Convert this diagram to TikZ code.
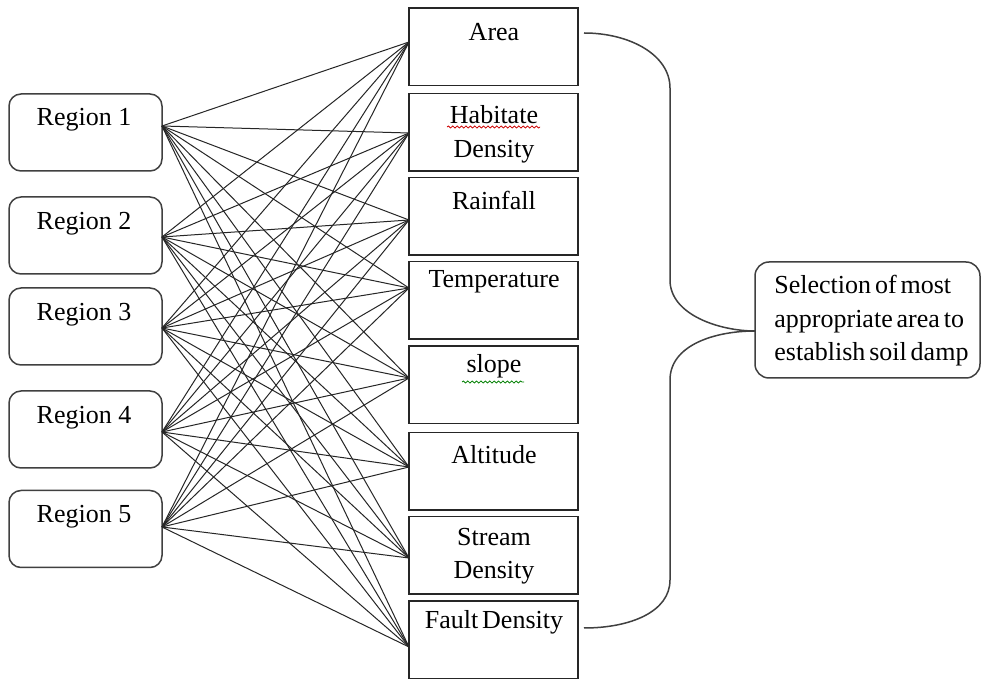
\documentclass[tikz,border=0pt]{standalone}
\usepackage{fontspec}
\setmainfont{Liberation Serif}
\usetikzlibrary{decorations.pathmorphing}
\begin{document}
\begin{tikzpicture}[x=0.5pt,y=-0.5pt,
  regbox/.style={draw=black!75, line width=0.75pt, rounded corners=6pt, minimum width=76.5pt, minimum height=38.5pt, inner sep=0pt},
  facbox/.style={draw=black!85, line width=0.75pt, minimum width=84.5pt, minimum height=38.75pt, inner sep=0pt},
  selbox/.style={draw=black!75, line width=0.75pt, rounded corners=7pt, minimum width=112.5pt, minimum height=58pt, inner sep=0pt},
  txt/.style={font=\fontsize{13}{16.8}\selectfont, inner sep=0pt, align=center},
  tighttxt/.style={font={\fontsize{13}{16.8}\selectfont\spaceskip=0.15em plus 0.05em\relax}, inner sep=0pt, align=left},
  link/.style={draw=black!85, line width=0.5pt},
  bracepath/.style={draw=black!75, line width=0.75pt},
  squiggle/.style={line width=0.4pt, decorate, decoration={snake, amplitude=0.5pt, segment length=2.2pt}}]
\fill[white] (0,0) rectangle (982,679);
\useasboundingbox (0,0) rectangle (982,679);
% region boxes
\node[regbox] (r1) at (85.5,132.5) {};
\node[regbox] (r2) at (85.5,235.5) {};
\node[regbox] (r3) at (85.5,326.5) {};
\node[regbox] (r4) at (85.5,429.5) {};
\node[regbox] (r5) at (85.5,529) {};
\node[txt] (rt1) at (84,120) {Region 1};
\node[txt] (rt2) at (84,224) {Region 2};
\node[txt] (rt3) at (84,315) {Region 3};
\node[txt] (rt4) at (84,418) {Region 4};
\node[txt] (rt5) at (84,517) {Region 5};
% factor boxes
\node[facbox] (f1) at (493.5,47) {};
\node[facbox] (f2) at (493.5,132.5) {};
\node[facbox] (f3) at (493.5,216.5) {};
\node[facbox] (f4) at (493.5,300.5) {};
\node[facbox] (f5) at (493.5,385) {};
\node[facbox] (f6) at (493.5,471.5) {};
\node[facbox] (f7) at (493.5,555.5) {};
\node[facbox] (f8) at (493.5,640) {};
\node[txt] (ft1) at (494,32) {Area};
\node[txt] (ft2) at (494,134) {Habitate\\Density};
\node[txt] (ft3) at (494,200) {Rainfall};
\node[txt] (ft4) at (494,282) {Temperature};
\node[txt] (ft5) at (494,366) {slope};
\node[txt] (ft6) at (494,455) {Altitude};
\node[txt] (ft7) at (494,556) {Stream\\Density};
\node[tighttxt] (ft8) at (494,622) {Fault Density};
% spell-check squiggles
\draw[squiggle, red!80!black] (447,127) -- (540,127);
\draw[squiggle, green!50!black] (462,382) -- (524,382);
% selection box
\node[selbox] (sel) at (867.5,320) {};
\node[tighttxt, anchor=west] (selt) at (774,321) {Selection of most\\appropriate area to\\establish soil damp};
% connection points
\coordinate (s1) at (162,126);
\coordinate (s2) at (162,237);
\coordinate (s3) at (162,328);
\coordinate (s4) at (162,432);
\coordinate (s5) at (162,527);
\coordinate (t1) at (409,42);
\coordinate (t2) at (409,133);
\coordinate (t3) at (409,220);
\coordinate (t4) at (409,288);
\coordinate (t5) at (409,378);
\coordinate (t6) at (409,467);
\coordinate (t7) at (409,558);
\coordinate (t8) at (409,647);
\foreach \i in {1,...,5} {
  \foreach \j in {1,...,8} {
    \draw[link] (s\i) -- (t\j);
  }
}
% brace
\coordinate (b1) at (584,33);
\coordinate (b2) at (584,628);
\coordinate (tip) at (755,331);
\draw[bracepath] (b1) .. controls (630,33) and (670,55) .. (670,88) -- (670,280)
  .. controls (670,315) and (720,331) .. (tip);
\draw[bracepath] (tip) .. controls (715,331) and (670,345) .. (670,380) -- (670,580)
  .. controls (670,612) and (630,628) .. (b2);
\end{tikzpicture}
\end{document}
